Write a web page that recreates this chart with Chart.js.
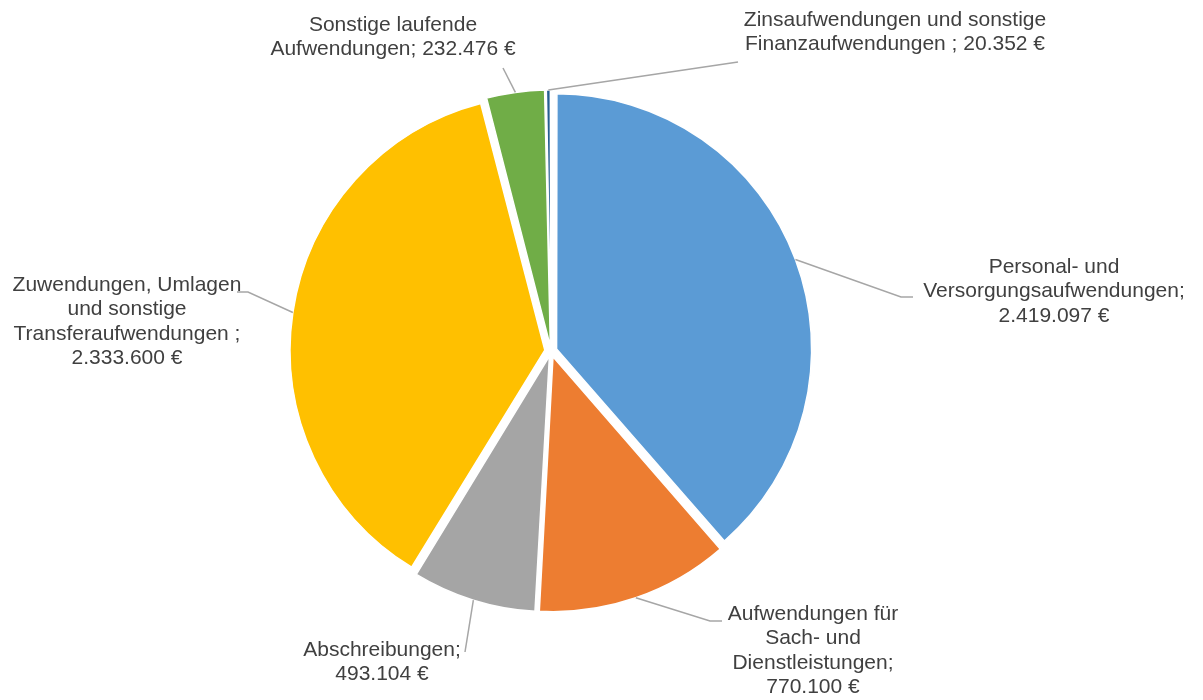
<!DOCTYPE html>
<html>
<head>
<meta charset="utf-8">
<script src="https://cdn.jsdelivr.net/npm/chart.js@4.4.1/dist/chart.umd.min.js"></script>
<style>
  html, body { margin: 0; padding: 0; background: #fff; }
  #chart { display: block; }
</style>
</head>
<body>
<canvas id="chart" width="1203" height="700"></canvas>
<script>
// Aufwendungen (Euro)
const categories = [
  'Personal- und Versorgungsaufwendungen',
  'Aufwendungen für Sach- und Dienstleistungen',
  'Abschreibungen',
  'Zuwendungen, Umlagen und sonstige Transferaufwendungen',
  'Sonstige laufende Aufwendungen',
  'Zinsaufwendungen und sonstige Finanzaufwendungen'
];
const values = [2419097, 770100, 493104, 2333600, 232476, 20352];
const colors = ['#5B9BD5', '#ED7D31', '#A5A5A5', '#FFC000', '#70AD47', '#255E91'];

// label text as it is wrapped in the picture, {v} = formatted value
const labelLines = [
  ['Personal- und', 'Versorgungsaufwendungen;', '{v}'],
  ['Aufwendungen für', 'Sach- und', 'Dienstleistungen;', '{v}'],
  ['Abschreibungen;', '{v}'],
  ['Zuwendungen, Umlagen', 'und sonstige', 'Transferaufwendungen ;', '{v}'],
  ['Sonstige laufende', 'Aufwendungen; {v}'],
  ['Zinsaufwendungen und sonstige', 'Finanzaufwendungen ; {v}']
];

const euro = v => String(v).replace(/\B(?=(\d{3})+(?!\d))/g, '.') + ' €';

// where the labels sit (first line centre) and the bends of the leader lines
const labelLayout = [
  { x: 1054, y: 267, pts: [[901, 297], [913, 297]] },
  { x: 813, y: 614, pts: [[710, 621], [722, 621]] },
  { x: 382, y: 650, pts: [[465, 652]] },
  { x: 127, y: 285, pts: [[248, 292], [237, 292]] },
  { x: 393, y: 25, pts: [[503, 68]] },
  { x: 895, y: 20, pts: [[738, 62]] }
];

const GAP = 8;
const total = values.reduce((a, b) => a + b, 0);

const leaderLabels = {
  id: 'leaderLabels',
  afterDraw(chart) {
    const ctx = chart.ctx;
    const meta = chart.getDatasetMeta(0);
    ctx.save();
    meta.data.forEach((arc, i) => {
      const p = arc.getProps(['x', 'y', 'startAngle', 'endAngle', 'outerRadius', 'circumference']);
      const mid = (p.startAngle + p.endAngle) / 2;
      const fix = 1 - Math.sin(Math.min(Math.PI, p.circumference));
      const d = (arc.options.offset / 4) * (1 + fix);
      const r = p.outerRadius + d;
      const sx = p.x + Math.cos(mid) * r;
      const sy = p.y + Math.sin(mid) * r;
      const lay = labelLayout[i];

      ctx.strokeStyle = '#A6A6A6';
      ctx.lineWidth = 1.5;
      ctx.beginPath();
      ctx.moveTo(sx, sy);
      lay.pts.forEach(pt => ctx.lineTo(pt[0], pt[1]));
      ctx.stroke();

      ctx.fillStyle = '#404040';
      ctx.font = '21px "Liberation Sans", Arial, sans-serif';
      ctx.textAlign = 'center';
      ctx.textBaseline = 'middle';
      labelLines[i].forEach((line, k) => {
        ctx.fillText(line.replace('{v}', euro(values[i])), lay.x, lay.y + k * 24.4);
      });
    });
    ctx.restore();
  }
};

new Chart(document.getElementById('chart').getContext('2d'), {
  type: 'pie',
  data: {
    labels: categories,
    datasets: [{
      data: values,
      backgroundColor: colors,
      borderColor: '#ffffff',
      borderWidth: 1.5,
      // same visible explosion for every slice
      offset: (c) => {
        const circ = c.dataset.data[c.dataIndex] / total * Math.PI * 2;
        const fix = 1 - Math.sin(Math.min(Math.PI, circ));
        return 4 * GAP / (1 + fix);
      }
    }]
  },
  options: {
    responsive: false,
    animation: false,
    radius: 253,
    layout: { padding: { left: 0, right: 101, top: 2, bottom: 0 } },
    plugins: {
      legend: { display: false },
      tooltip: { enabled: false }
    }
  },
  plugins: [leaderLabels]
});
</script>
</body>
</html>
